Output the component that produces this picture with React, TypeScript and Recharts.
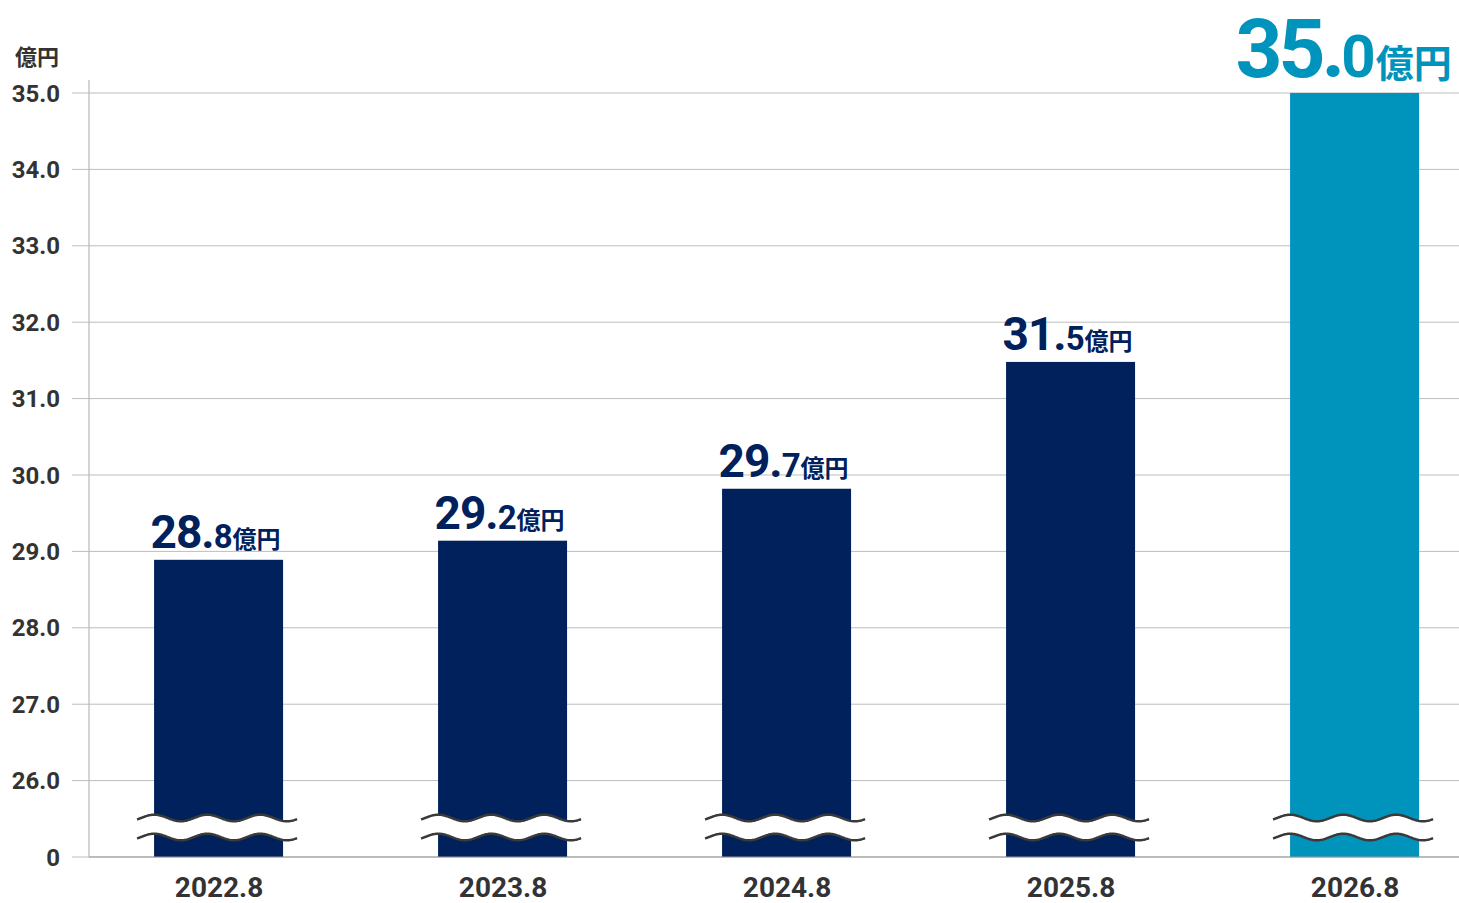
import React from "react";
import { BarChart, Bar, XAxis, YAxis, CartesianGrid, Cell } from "recharts";

// categories (fiscal period)
const categories = ["2022.8", "2023.8", "2024.8", "2025.8", "2026.8"];
// printed values (億円)
const valueInts = ["28.", "29.", "29.", "31.", "35."];
const valueDecs = ["8", "2", "7", "5", "0"];
// drawn bar tops (億円)
const barLevels = [28.89, 29.14, 29.82, 31.48, 35.0];
const barColors = ["#00215B", "#00215B", "#00215B", "#00215B", "#0094BD"];
const labelColors = ["#00215B", "#00215B", "#00215B", "#00215B", "#0094BD"];
const highlightIndex = 4;

// y axis ticks (broken axis: the lowest tick is printed as 0)
const yTicks = [25, 26, 27, 28, 29, 30, 31, 32, 33, 34, 35];
const yTickLabels = ["0", "26.0", "27.0", "28.0", "29.0", "30.0", "31.0", "32.0", "33.0", "34.0", "35.0"];
const unitLabel = "億円";

const data = categories.map((c, i) => ({ idx: i, name: c, level: barLevels[i] }));

const FONT = "Roboto, 'Noto Sans CJK JP', sans-serif";
const CJK = "'Noto Sans CJK JP', sans-serif";

function wavePoints(left: number, right: number, cy: number): [number, number][] {
  const pts: [number, number][] = [];
  for (let t = left; t <= right + 0.01; t += 1) {
    pts.push([t, cy - 3.3 * Math.sin((2 * Math.PI * (t - left - 4)) / 53)]);
  }
  return pts;
}

const BarShape = (props: any) => {
  const { x, y, width, height, fill, index } = props;
  const bottom = y + height;
  const left = x - 17;
  const right = x + width + 14;
  const topW = wavePoints(left, right, bottom - 39);
  const botW = wavePoints(left, right, bottom - 20);
  const toPath = (pts: [number, number][]) =>
    pts.map((p, i) => (i === 0 ? "M" : "L") + p[0].toFixed(2) + "," + p[1].toFixed(2)).join(" ");
  const fillPath =
    toPath(topW) +
    " " +
    botW
      .slice()
      .reverse()
      .map((p) => "L" + p[0].toFixed(2) + "," + p[1].toFixed(2))
      .join(" ") +
    " Z";
  const big = index === highlightIndex;
  const cx = x + width / 2 + (big ? -11 : -3);
  const ly = y + (big ? -16 : -12);
  return (
    <g>
      <rect x={x} y={y} width={width} height={height} fill={fill} />
      <path d={fillPath} fill="#ffffff" stroke="none" />
      <path d={toPath(topW)} fill="none" stroke="#3a3a3a" strokeWidth={2.5} />
      <path d={toPath(botW)} fill="none" stroke="#3a3a3a" strokeWidth={2.5} />
      <text
        x={cx}
        y={ly}
        textAnchor="middle"
        fill={labelColors[index]}
        fontFamily={FONT}
        fontWeight={700}
      >
        <tspan fontSize={big ? 82 : 46} letterSpacing={big ? -4 : -1}>
          {valueInts[index]}
        </tspan>
        <tspan fontSize={big ? 60 : 33}>{valueDecs[index]}</tspan>
        <tspan fontSize={big ? 38 : 24} fontFamily={CJK}>
          {unitLabel}
        </tspan>
      </text>
    </g>
  );
};

const XTick = (props: any) => {
  const { x, y, payload } = props;
  return (
    <text x={x} y={y + 40} textAnchor="middle" fill="#333333" fontSize={28} fontWeight={700} fontFamily={FONT}>
      {categories[payload.value]}
    </text>
  );
};

export default function App() {
  return (
    <div
      style={{
        position: "absolute",
        left: 0,
        top: 0,
        width: 1459,
        height: 903,
        overflow: "hidden",
        background: "#ffffff",
      }}
    >
      <div
        style={{
          position: "absolute",
          left: 15,
          top: 41,
          fontSize: 22,
          fontWeight: 700,
          color: "#333333",
          fontFamily: CJK,
          lineHeight: "28px",
        }}
      >
        {unitLabel}
      </div>
      <BarChart
        width={1459}
        height={903}
        data={data}
        margin={{ top: 80, right: 0, bottom: 0, left: 0 }}
      >
        <CartesianGrid vertical={false} stroke="#bdbdbd" syncWithTicks />
        <XAxis
          type="number"
          dataKey="idx"
          domain={[-0.458, 4.366]}
          ticks={[0, 1, 2, 3, 4]}
          interval={0}
          height={46}
          tickLine={false}
          tickSize={0}
          tickMargin={0}
          axisLine={{ stroke: "#999999" }}
          tick={<XTick />}
        />
        <YAxis
          type="number"
          domain={[25, 35.17]}
          ticks={yTicks}
          interval={0}
          width={89}
          tickSize={17}
          tickMargin={12}
          tickLine={{ stroke: "#bdbdbd" }}
          axisLine={{ stroke: "#aaaaaa" }}
          tickFormatter={(v: number) => yTickLabels[yTicks.indexOf(v)]}
          tick={{ fill: "#333333", fontSize: 24, fontWeight: 700, fontFamily: FONT }}
        />
        <Bar dataKey="level" barSize={129} isAnimationActive={false} shape={<BarShape />}>
          {data.map((d, i) => (
            <Cell key={d.name} fill={barColors[i]} />
          ))}
        </Bar>
      </BarChart>
    </div>
  );
}
